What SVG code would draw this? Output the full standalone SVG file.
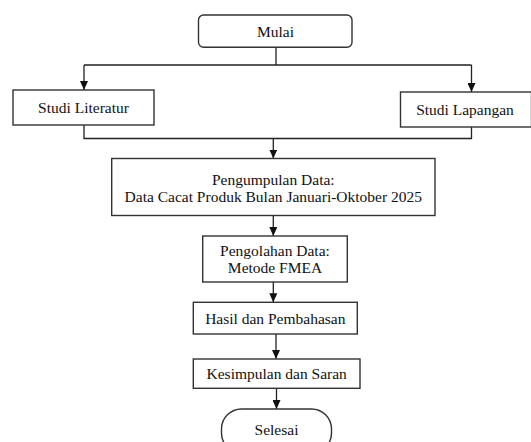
<svg xmlns="http://www.w3.org/2000/svg" width="531" height="442" viewBox="0 0 531 442">
<defs>
<marker id="ah" markerWidth="9" markerHeight="8" refX="9" refY="4" orient="auto" markerUnits="userSpaceOnUse" viewBox="0 0 9 8">
<path d="M0,0 L9,4 L0,8 Z" fill="#111"/>
</marker>
</defs>
<style>
.box{fill:#fff;stroke:#333;stroke-width:1.4}
.ln{fill:none;stroke:#222;stroke-width:1.3}
.arr{fill:none;stroke:#222;stroke-width:1.3}
.t{font-family:"Liberation Serif","Times New Roman",Times,serif;font-size:15.5px;fill:#111;text-anchor:middle}
</style>
<rect width="531" height="442" fill="#fff"/>
<g id="connectors">
<path class="ln" d="M276,47.3 V65 M84,65 H471.5"/>
<line class="arr" x1="84" y1="65" x2="84" y2="90" marker-end="url(#ah)"/>
<line class="arr" x1="471.5" y1="65" x2="471.5" y2="92" marker-end="url(#ah)"/>
<path class="ln" d="M84,125 V138.5 H471.5 V127"/>
<line class="arr" x1="273.3" y1="138.5" x2="273.3" y2="158.5" marker-end="url(#ah)"/>
<line class="arr" x1="273.3" y1="215.5" x2="273.3" y2="236" marker-end="url(#ah)"/>
<line class="arr" x1="273.3" y1="282" x2="273.3" y2="302.3" marker-end="url(#ah)"/>
<line class="arr" x1="276" y1="334" x2="276" y2="359" marker-end="url(#ah)"/>
<line class="arr" x1="276.5" y1="388.3" x2="276.5" y2="409" marker-end="url(#ah)"/>
</g>
<g id="mulai">
<rect class="box" x="198.5" y="15" width="153.5" height="32.3" rx="5"/>
<text class="t" x="275.5" y="36.5">Mulai</text>
</g>
<g id="studi-literatur">
<rect class="box" x="13" y="90" width="141" height="35"/>
<text class="t" x="83.5" y="113">Studi Literatur</text>
</g>
<g id="studi-lapangan">
<rect class="box" x="400.5" y="92" width="131" height="35"/>
<text class="t" x="465" y="115">Studi Lapangan</text>
</g>
<g id="pengumpulan">
<rect class="box" x="111.7" y="158.5" width="323.3" height="57"/>
<text class="t" x="273.3" y="185">Pengumpulan Data:</text>
<text class="t" x="273.3" y="201.7">Data Cacat Produk Bulan Januari-Oktober 2025</text>
</g>
<g id="pengolahan">
<rect class="box" x="202.7" y="236" width="144.6" height="46"/>
<text class="t" x="275" y="256">Pengolahan Data:</text>
<text class="t" x="275" y="273">Metode FMEA</text>
</g>
<g id="hasil">
<rect class="box" x="193.3" y="302.3" width="164" height="31.7"/>
<text class="t" x="275.3" y="323.5">Hasil dan Pembahasan</text>
</g>
<g id="kesimpulan">
<rect class="box" x="193.3" y="359" width="166.7" height="29.3"/>
<text class="t" x="276.7" y="379">Kesimpulan dan Saran</text>
</g>
<g id="selesai">
<rect class="box" x="221.5" y="409" width="110" height="44" rx="20"/>
<text class="t" x="276.5" y="435">Selesai</text>
</g>
</svg>
